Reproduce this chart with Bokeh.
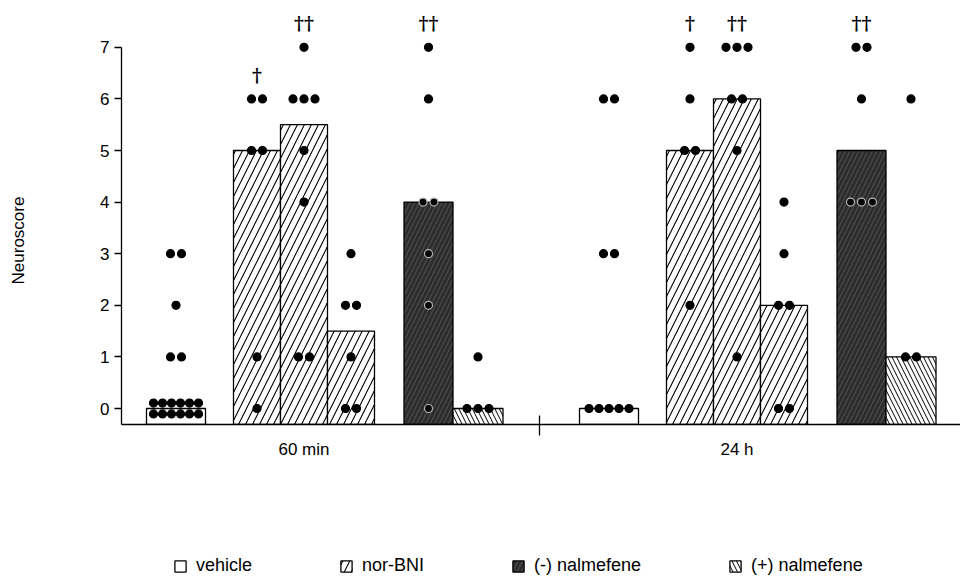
import math
from bokeh.plotting import figure
from bokeh.layouts import column, row
from bokeh.models import FixedTicker, Range1d, Legend, LegendItem, ColumnDataSource
from bokeh.embed import file_html
from bokeh.resources import INLINE
from bokeh.core.properties import value

# ---------------- data ----------------
time_labels = ["60 min", "24 h"]
treatments = ["vehicle", "nor-BNI", "nor-BNI", "nor-BNI", "(-) nalmefene", "(+) nalmefene"]
legend_names = ["vehicle", "nor-BNI", "(-) nalmefene", "(+) nalmefene"]
y_title = "Neuroscore"

median_60min = [0, 5, 5.5, 1.5, 4, 0]
median_24h = [0, 5, 6, 2, 5, 1]

scores_60min = [
    [0, 0, 0, 0, 0, 0, 0, 0, 0, 0, 0, 0, 1, 1, 2, 3, 3],
    [6, 6, 5, 5, 1, 0],
    [7, 6, 6, 6, 5, 4, 1, 1],
    [3, 2, 2, 1, 0, 0],
    [7, 6, 4, 4, 3, 2, 0],
    [1, 0, 0, 0],
]
scores_24h = [
    [6, 6, 3, 3, 0, 0, 0, 0, 0],
    [7, 6, 5, 5, 2],
    [7, 7, 7, 6, 6, 5, 1],
    [4, 3, 2, 2, 0, 0],
    [7, 7, 6, 4, 4, 4],
    [6, 1, 1],
]
signif_60min = ["", "\u2020", "\u2020\u2020", "", "\u2020\u2020", ""]
signif_24h = ["", "\u2020", "\u2020\u2020", "", "\u2020\u2020", ""]

y_ticks = [0, 1, 2, 3, 4, 5, 6, 7]

# ---------------- layout ----------------
W, H = 960, 576
W_TITLE = 40
H_LEGEND = 40
W_MAIN = W - W_TITLE
H_MAIN = H - H_LEGEND
PX_PER_UNIT = 51.6
Y_START = -16 / PX_PER_UNIT
Y_END = 408 / PX_PER_UNIT
group_offset = [0, 433]
slot_center = [54.5, 135.5, 182.5, 229.5, 307.0, 356.5]
slot_width = [59, 47, 47, 47, 49, 50]
label_slot = 2
separator_x = 418

FONT = "Liberation Sans"

styles = {
    "vehicle": dict(fill_color="white"),
    "nor-BNI": dict(fill_color="white", hatch_pattern="/", hatch_color="black",
                    hatch_scale=14, hatch_weight=1.1),
    "(-) nalmefene": dict(fill_color="#2c2c2c", hatch_pattern="/", hatch_color="#474747",
                          hatch_scale=9, hatch_weight=1.4),
    "(+) nalmefene": dict(fill_color="white", hatch_pattern="\\", hatch_color="black",
                          hatch_scale=9, hatch_weight=1.0),
}

p = figure(width=W_MAIN, height=H_MAIN, output_backend="svg", toolbar_location=None,
           x_range=Range1d(0, 839), y_range=Range1d(Y_START, Y_END),
           min_border_left=121 - W_TITLE, min_border_right=0, min_border_top=0,
           min_border_bottom=H_MAIN - 424)
p.outline_line_color = None
p.xgrid.visible = False
p.ygrid.visible = False

medians = [median_60min, median_24h]
scores = [scores_60min, scores_24h]
signifs = [signif_60min, signif_24h]

for name in legend_names:
    xs, ws, tops = [], [], []
    for g in range(2):
        for s, tr in enumerate(treatments):
            if tr == name:
                xs.append(group_offset[g] + slot_center[s])
                ws.append(slot_width[s])
                tops.append(medians[g][s])
    src = ColumnDataSource(dict(x=xs, w=ws, top=tops))
    p.vbar(x="x", width="w", top="top", bottom=Y_START, source=src,
           line_color="black", line_width=1.3, **styles[name])

# individual points
dx, dy, dline = [], [], []
for g in range(2):
    for s, vals in enumerate(scores[g]):
        cx = group_offset[g] + slot_center[s]
        counts = {}
        for v in vals:
            counts[v] = counts.get(v, 0) + 1
        for v, n in counts.items():
            rows = math.ceil(n / 6)
            per_row = math.ceil(n / rows)
            step = 11 if per_row <= 3 else (10 if per_row <= 5 else 9)
            for r_i in range(rows):
                m = min(per_row, n - r_i * per_row)
                yoff = ((rows - 1) / 2 - r_i) * 0.21
                for i in range(m):
                    dx.append(cx + (i - (m - 1) / 2) * step)
                    dy.append(v + yoff)
                    inside = treatments[s] == "(-) nalmefene" and v <= medians[g][s] + 1e-9
                    dline.append("#b5b5b5" if inside else "black")
p.scatter(x=dx, y=dy, size=8, marker="circle", fill_color="black",
          line_color=dline, line_width=1.2)

# significance daggers
tx, ty, tt = [], [], []
for g in range(2):
    for s, lab in enumerate(signifs[g]):
        if lab:
            tx.append(group_offset[g] + slot_center[s])
            ty.append(max(scores[g][s]) + 0.47)
            tt.append(lab)
p.text(x=tx, y=ty, text=tt, text_font=value("DejaVu Serif"), text_font_size="19px",
       text_font_style="bold", text_align="center", text_baseline="middle",
       text_color="black")

# y axis
ya = p.yaxis[0]
ya.ticker = FixedTicker(ticks=y_ticks)
ya.bounds = (Y_START, 7)
ya.axis_line_width = 1.3
ya.major_tick_line_width = 1.3
ya.major_tick_out = 7
ya.major_tick_in = 0
ya.minor_tick_line_color = None
ya.major_label_text_font = FONT
ya.major_label_text_font_size = "17px"
ya.major_label_text_color = "black"
ya.major_label_standoff = 5

# x axis
xa = p.xaxis[0]
label_pos = [group_offset[g] + slot_center[label_slot] for g in range(2)]
xa.ticker = FixedTicker(ticks=label_pos, minor_ticks=[separator_x])
xa.major_label_overrides = {label_pos[g]: time_labels[g] for g in range(2)}
xa.axis_line_width = 1.3
xa.major_tick_line_color = None
xa.major_tick_out = 0
xa.major_tick_in = 0
xa.minor_tick_line_color = "black"
xa.minor_tick_line_width = 1.3
xa.minor_tick_in = 9
xa.minor_tick_out = 11
xa.major_label_text_font = FONT
xa.major_label_text_font_size = "17px"
xa.major_label_text_color = "black"
xa.major_label_standoff = 4

# y-axis title strip (left)
t = figure(width=W_TITLE, height=H, output_backend="svg", toolbar_location=None,
           x_range=Range1d(0, W_TITLE), y_range=Range1d(0, H), min_border=0,
           x_axis_location=None, y_axis_location=None)
t.outline_line_color = None
t.xgrid.visible = False
t.ygrid.visible = False
t.text(x=[18], y=[H - 240], text=[y_title], angle=math.pi / 2,
       text_font=value(FONT), text_font_size="17px", text_align="center",
       text_baseline="middle", text_color="black")

# legend strip (below); key swatches come from zero-size proxy glyphs
q = figure(width=W_MAIN, height=H_LEGEND, output_backend="svg", toolbar_location=None,
           x_range=Range1d(0, W_MAIN), y_range=Range1d(0, H_LEGEND),
           min_border=0, x_axis_location=None, y_axis_location=None,
           border_fill_color="white", background_fill_color="white")
q.outline_line_color = None
q.xgrid.visible = False
q.ygrid.visible = False
items = []
for name in legend_names:
    r = q.vbar(x=[400], width=[0], top=[20], bottom=20, line_color="black",
               line_width=1.3, **styles[name])
    items.append(LegendItem(label=name, renderers=[r]))
legend = Legend(items=items, orientation="horizontal", location=(52, 0), padding=0,
                margin=0, spacing=87, label_standoff=9, glyph_width=14, glyph_height=14,
                label_height=18, label_text_font=FONT, label_text_font_size="18px",
                label_text_color="black", border_line_color=None,
                background_fill_alpha=0)
q.add_layout(legend, "center")

layout = row(t, column(p, q, spacing=0), spacing=0)
open("out.html", "w").write(file_html(layout, INLINE))
